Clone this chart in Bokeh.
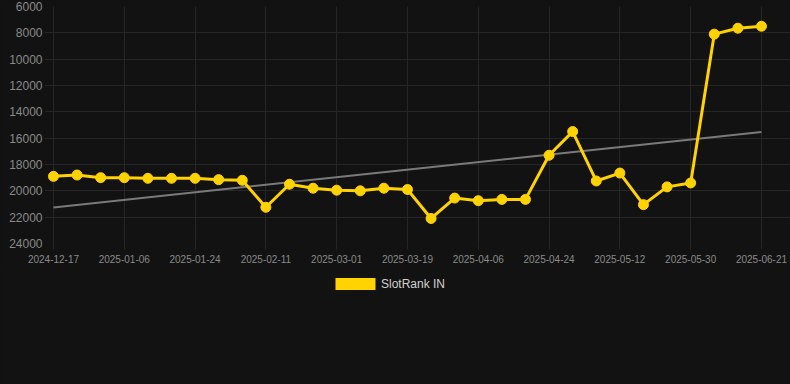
import numpy as np
from bokeh.plotting import figure
from bokeh.layouts import column
from bokeh.models import Range1d, FixedTicker, Legend, LegendItem, ColumnDataSource
from bokeh.embed import file_html
from bokeh.resources import INLINE

dates = ["2024-12-17", "2024-12-24", "2024-12-31", "2025-01-06", "2025-01-12", "2025-01-18",
         "2025-01-24", "2025-01-30", "2025-02-05", "2025-02-11", "2025-02-17", "2025-02-23",
         "2025-03-01", "2025-03-07", "2025-03-13", "2025-03-19", "2025-03-25", "2025-03-31",
         "2025-04-06", "2025-04-12", "2025-04-18", "2025-04-24", "2025-04-30", "2025-05-06",
         "2025-05-12", "2025-05-18", "2025-05-24", "2025-05-30", "2025-06-07", "2025-06-14",
         "2025-06-21"]
ranks = [18900, 18800, 19000, 19000, 19050, 19050, 19050, 19150, 19200, 21250,
         19500, 19800, 19950, 20000, 19800, 19900, 22100, 20550, 20750, 20650,
         20650, 17300, 15500, 19250, 18650, 21050, 19700, 19400, 8100, 7650, 7500]
y_ticks = [6000, 8000, 10000, 12000, 14000, 16000, 18000, 20000, 22000, 24000]
series_name = "SlotRank IN"

BG = "#121212"
GRID = "#262626"
YELLOW = "#FFD200"
TEXT = "#8a8a8a"

idx = np.arange(len(ranks))
slope, intercept = np.polyfit(idx, np.array(ranks, dtype=float), 1)
trend_x = [int(idx[0]), int(idx[-1])]
trend_y = [intercept + slope * trend_x[0], intercept + slope * trend_x[1]]

p = figure(width=790, height=270, output_backend="svg", toolbar_location=None,
           x_range=Range1d(-0.38, 31.23), y_range=Range1d(24000, 6000),
           min_border_left=44, min_border_right=0, min_border_top=6, min_border_bottom=27)
p.background_fill_color = BG
p.border_fill_color = BG
p.outline_line_color = None

src = ColumnDataSource(dict(x=idx, y=ranks, d=dates))
p.line(trend_x, trend_y, line_color="#7a7a7a", line_width=2)
p.line("x", "y", source=src, line_color=YELLOW, line_width=3)
p.scatter("x", "y", source=src, size=10, fill_color=YELLOW, line_color=YELLOW)

label_idx = list(range(0, len(dates), 3))
p.xaxis.ticker = FixedTicker(ticks=label_idx)
p.xaxis.major_label_overrides = {i: dates[i] for i in label_idx}
p.yaxis.ticker = FixedTicker(ticks=y_ticks)
p.yaxis.major_label_overrides = {v: str(v) for v in y_ticks}

for ax in (p.xaxis[0], p.yaxis[0]):
    ax.axis_line_color = None
    ax.minor_tick_line_color = None
    ax.major_label_text_color = TEXT
    ax.major_label_text_font = "Liberation Sans"
p.xaxis.major_tick_line_color = GRID
p.xaxis.major_tick_out = 6
p.xaxis.major_tick_in = 0
p.xaxis.major_label_text_font_size = "10px"
p.xaxis.major_label_standoff = 5
p.yaxis.major_tick_line_color = None
p.yaxis.major_tick_out = 0
p.yaxis.major_tick_in = 0
p.yaxis.major_label_text_font_size = "12px"
p.yaxis.major_label_standoff = 2

p.xgrid.grid_line_color = GRID
p.ygrid.grid_line_color = GRID

# legend strip below the chart
lg = figure(width=790, height=114, output_backend="svg", toolbar_location=None,
            x_range=Range1d(0, 1), y_range=Range1d(0, 1),
            min_border_left=44, min_border_right=0, min_border_top=0, min_border_bottom=0)
lg.background_fill_color = BG
lg.border_fill_color = BG
lg.outline_line_color = None
lg.axis.visible = False
lg.grid.visible = False
# zero-area proxy glyph: only its legend swatch is seen
box_r = lg.quad(left=[0], right=[0], top=[0], bottom=[0], fill_color=YELLOW, line_color=None)

legend = Legend(items=[LegendItem(label=series_name, renderers=[box_r])],
                location=(286, 93), orientation="horizontal",
                glyph_width=50, glyph_height=15, label_height=15,
                label_text_font="Liberation Sans",
                label_text_font_size="12px", label_text_color="#d0d0d0",
                label_standoff=1, padding=0, margin=0, spacing=0,
                border_line_color=None, background_fill_alpha=0)
lg.add_layout(legend, "center")

layout = column(p, lg, spacing=0)
html = file_html(layout, INLINE)
html = html.replace("</head>",
                    "<style>html,body{margin:0;padding:0;background:#121212;}</style></head>", 1)
open("out.html", "w").write(html)
